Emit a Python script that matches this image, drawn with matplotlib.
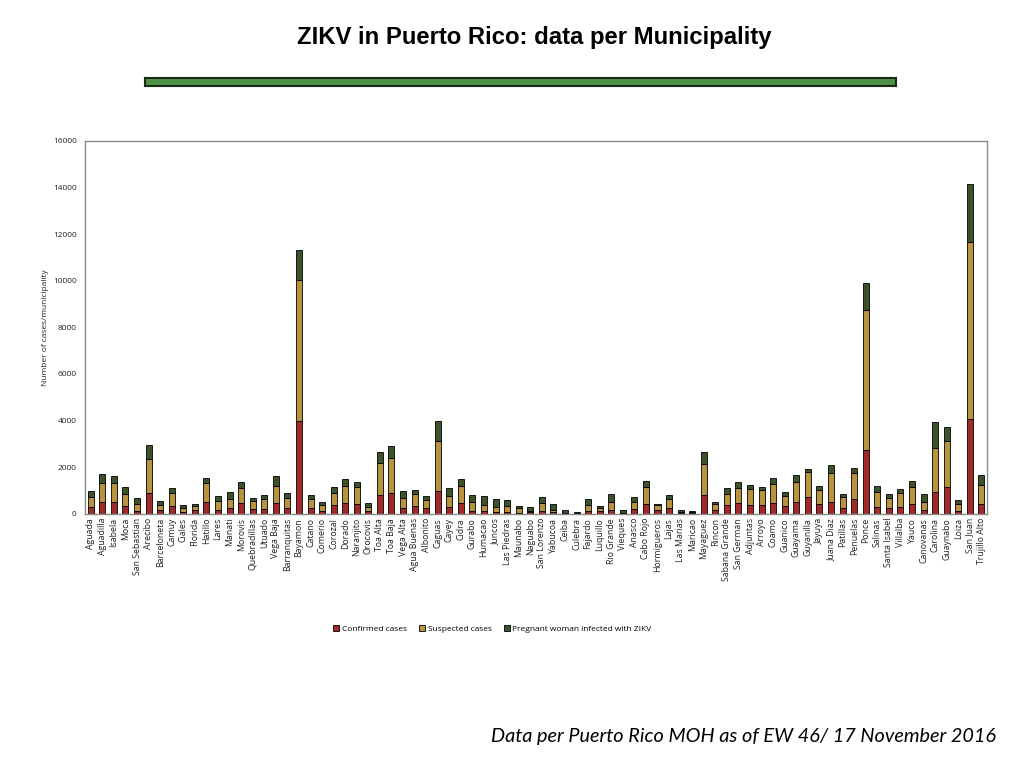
import matplotlib
matplotlib.use("Agg")
import matplotlib.pyplot as plt
import numpy as np

municipalities = ["Aguada", "Aguadilla", "Isabela", "Moca", "San Sebastian", "Arecibo", "Barceloneta",
    "Camuy", "Ciales", "Florida", "Hatillo", "Lares", "Manati", "Morovis", "Quebradillas", "Utuado",
    "Vega Baja", "Barranquitas", "Bayamon", "Catano", "Comerio", "Corozal", "Dorado", "Naranjito",
    "Orocovis", "Toa Alta", "Toa Baja", "Vega Alta", "Agua Buenas", "Albonito", "Caguas", "Cayey",
    "Cidra", "Gurabo", "Humacao", "Juncos", "Las Piedras", "Maunabo", "Naguabo", "San Lorenzo",
    "Yabucoa", "Ceiba", "Culebra", "Fajardo", "Luquillo", "Rio Grande", "Vieques", "Anasco",
    "Cabo Rojo", "Hormigueros", "Lajas", "Las Marias", "Maricao", "Mayaguez", "Rincon",
    "Sabana Grande", "San German", "Adjuntas", "Arroyo", "Coamo", "Guanico", "Guayama", "Guyanilla",
    "Jayuya", "Juana Diaz", "Patillas", "Penuelas", "Ponce", "Salinas", "Santa Isabel", "Villalba",
    "Yauco", "Canovanas", "Carolina", "Guaynabo", "Loiza", "San Juan", "Trujillo Alto"]

# cumulative tops
confirmed_top = [272, 515, 515, 329, 129, 901, 157, 329, 86, 157, 500, 157, 257, 458, 200, 215,
    458, 243, 3975, 229, 129, 372, 458, 415, 100, 815, 887, 257, 329, 229, 987, 300,
    458, 129, 100, 72, 86, 29, 72, 129, 57, 15, 10, 100, 100, 172, 29, 215,
    429, 143, 243, 29, 29, 815, 172, 372, 458, 358, 386, 458, 329, 500, 729,
    415, 500, 229, 644, 2717, 300, 229, 300, 415, 157, 944, 1158, 114, 4075, 415]
suspected_top = [715, 1316, 1316, 829, 415, 2345, 372, 887, 229, 329, 1316, 543, 629, 1101, 543, 629,
    1173, 658, 10009, 629, 372, 872, 1187, 1144, 286, 2174, 2374, 672, 844, 586, 3117, 772,
    1187, 515, 372, 286, 315, 243, 129, 458, 157, 30, 20, 372, 229, 500, 43, 515,
    1144, 358, 644, 57, 57, 2116, 400, 844, 1101, 1058, 1015, 1273, 772, 1359, 1773,
    1030, 1730, 715, 1745, 8722, 915, 672, 887, 1144, 486, 2831, 3131, 400, 11656, 1230]
total_top = [987, 1702, 1602, 1144, 686, 2946, 558, 1087, 358, 429, 1530, 758, 915, 1373, 686, 787,
    1602, 887, 11296, 787, 500, 1144, 1487, 1344, 458, 2660, 2903, 987, 1030, 758, 3975, 1087,
    1502, 787, 758, 644, 601, 329, 300, 729, 400, 170, 60, 644, 343, 829, 157, 701,
    1416, 429, 801, 157, 114, 2631, 500, 1087, 1359, 1230, 1158, 1544, 930, 1659, 1931,
    1187, 2102, 844, 1974, 9897, 1187, 858, 1073, 1416, 829, 3932, 3732, 572, 14144, 1673]

confirmed = np.array(confirmed_top)
suspected = np.array(suspected_top) - confirmed
pregnant = np.array(total_top) - np.array(suspected_top)

small_font = "Open Sans"

fig = plt.figure(figsize=(10.24, 7.68), dpi=100)
fig.patch.set_facecolor("white")

# title
fig.text(0.522, 0.951, "ZIKV in Puerto Rico: data per Municipality", ha="center", va="center",
         fontsize=17.2, fontweight="bold", family="Liberation Sans")
# green band
band = fig.add_axes([0.142, 0.888, 0.733, 0.011])
band.set_facecolor("#4e9245")
band.set_xticks([]); band.set_yticks([])
for s in band.spines.values():
    s.set_color("#1b2a16"); s.set_linewidth(1.5)

ax = fig.add_axes([0.083, 0.331, 0.881, 0.4856])
x = np.arange(len(municipalities))
w = 0.52
c_conf, c_susp, c_preg = "#a3282a", "#b8923c", "#3c5228"
ax.bar(x, confirmed, w, color=c_conf, edgecolor="black", linewidth=0.6, label="Confirmed cases")
ax.bar(x, suspected, w, bottom=confirmed, color=c_susp, edgecolor="black", linewidth=0.6,
       label="Suspected cases")
ax.bar(x, pregnant, w, bottom=np.array(suspected_top), color=c_preg, edgecolor="black",
       linewidth=0.6, label="Pregnant woman infected with ZIKV")

ax.set_xlim(-0.5, len(municipalities) - 0.5)
ax.set_ylim(0, 16000)
ax.set_yticks(np.arange(0, 16001, 2000))
ax.set_xticks(x)
ax.set_xticklabels(municipalities, rotation=90, fontsize=6.3, family=small_font, color="#222222")
ax.tick_params(axis="x", length=0, pad=3)
ax.tick_params(axis="y", length=0, pad=6, labelsize=6, labelcolor="#222222")
for lab in ax.get_yticklabels():
    lab.set_family(small_font)
ax.set_ylabel("Number of cases/municipality", fontsize=6, family=small_font, color="#222222",
              labelpad=3)
for s in ax.spines.values():
    s.set_color("#8a8a8a"); s.set_linewidth(1.0)

handles, labels = ax.get_legend_handles_labels()
leg = fig.legend(handles, labels, loc="center", bbox_to_anchor=(0.481, 0.181), ncol=3,
                 frameon=False, prop={"family": small_font, "size": 6},
                 handlelength=0.7, handleheight=0.7, handletextpad=0.3, columnspacing=1.5)

fig.text(0.973, 0.041, "Data per Puerto Rico MOH as of EW 46/ 17 November 2016", ha="right",
         va="center", fontsize=14.3, style="italic", family="Lato")

fig.savefig("out.png", dpi=100, facecolor="white")
